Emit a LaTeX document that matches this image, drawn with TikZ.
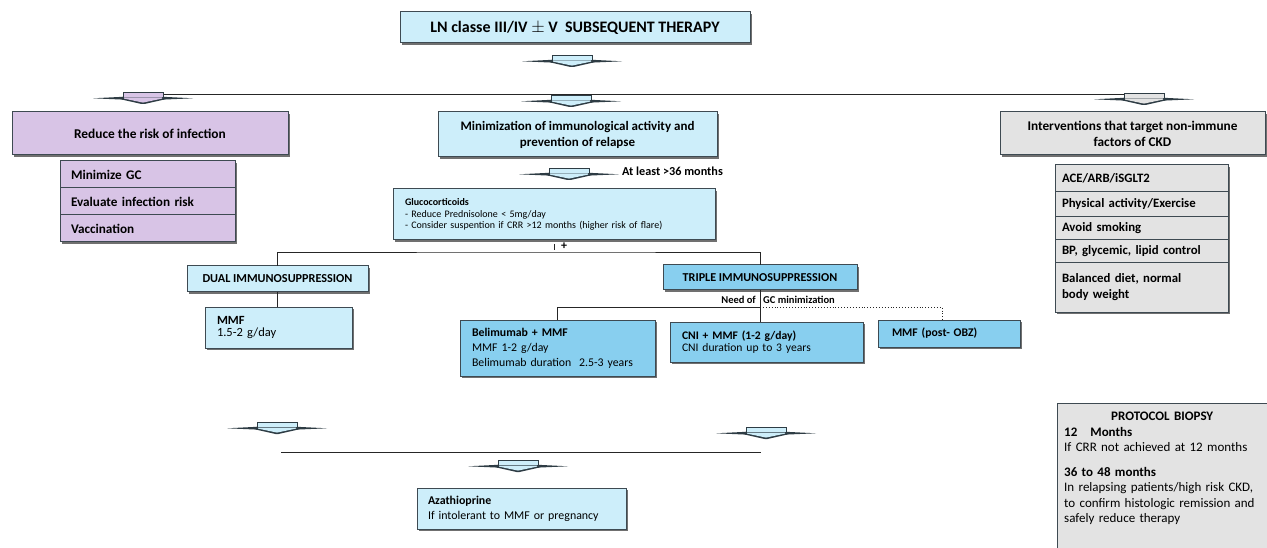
\documentclass[tikz,border=0pt]{standalone}
\usepackage{fontspec}
\setmainfont{Carlito}
\usetikzlibrary{shadows,calc}
\definecolor{lblue}{HTML}{CDEEFA}
\definecolor{mblue}{HTML}{88CFEF}
\definecolor{lpurp}{HTML}{D8C4E6}
\definecolor{lgray}{HTML}{E3E3E3}
\definecolor{bordc}{HTML}{3E4A52}
\definecolor{arrdark}{HTML}{2E3C44}
\newcommand{\fsz}[2]{\fontsize{#1}{#2}\selectfont}
\newcommand{\flatarr}[3]{%
  \begin{scope}[shift={(#1,#2)}]
    \fill[arrdark] (-50,6.3) -- (-20,4.8) -- (-20,7.6) -- cycle;
    \fill[arrdark] (50,6.3) -- (20,4.8) -- (20,7.6) -- cycle;
    \fill[arrdark] (-21,4.8) -- (21,4.8) -- (21,7.6) -- (1.5,12) -- (-1.5,12) -- (-21,7.6) -- cycle;
    \filldraw[fill=#3, draw=arrdark, line width=0.8pt] (-20,0) rectangle (20,5.5);
    \fill[#3] (-19,5.5) -- (19,5.5) -- (19,6.6) -- (0,10.6) -- (-19,6.6) -- cycle;
  \end{scope}}
\tikzset{
  box/.style={draw=bordc, line width=1pt, anchor=north west, inner sep=0pt, outer sep=0pt,
    drop shadow={shadow xshift=1.6pt, shadow yshift=-1.6pt, fill=black!70, opacity=0.8}},
  cbox/.style={box, align=center},
  lbox/.style={box, align=left},
  conn/.style={draw=black!85, line width=0.9pt},
  dotconn/.style={draw=black!85, line width=0.9pt, dotted},
}
\begin{document}
\begin{tikzpicture}[x=1pt,y=-1pt]
\useasboundingbox (0,0) rectangle (1267,548);
\clip (0,0) rectangle (1267,548);

% title
\node[cbox, fill=lblue, minimum width=350, minimum height=31, font=\fsz{16}{18}\bfseries] (title) at (400,12) {LN classe III/IV $\pm$ V\ \ SUBSEQUENT THERAPY};
\flatarr{572}{55}{lblue}

% top distribution line
\coordinate (tl) at (143,94.5);
\coordinate (tr) at (1144,94.5);
\draw[conn] (tl) -- (tr);
\flatarr{143}{92}{lpurp}
\flatarr{571}{95}{lblue}
\flatarr{1144}{93}{lgray}

% left column
\node[cbox, fill=lpurp, minimum width=276, minimum height=43, font=\fsz{13.4}{15}\bfseries] (infect) at (12,112) {Reduce the risk of infection};
\node[lbox, fill=lpurp, text width=153, inner xsep=11, minimum height=27, font=\fsz{13.2}{15}\bfseries] (p1) at (60,161) {Minimize GC};
\node[lbox, fill=lpurp, text width=153, inner xsep=11, minimum height=27, font=\fsz{13.2}{15}\bfseries] (p2) at (60,188) {Evaluate infection risk};
\node[lbox, fill=lpurp, text width=153, inner xsep=11, minimum height=27, font=\fsz{13.2}{15}\bfseries] (p3) at (60,215) {Vaccination};

% central column
\node[cbox, fill=lblue, minimum width=279, minimum height=45, font=\fsz{13}{16}\bfseries] (minim) at (438,112) {Minimization of immunological activity and\\prevention of relapse};
\flatarr{569}{168}{lblue}
\node[anchor=west, inner sep=0pt, font=\fsz{12.2}{14}\bfseries] (atleast) at (622,171) {At least >36 months};

\node[lbox, fill=lblue, text width=298, inner xsep=12, minimum height=51, font=\fsz{10}{11.5}] (gluco) at (393,189) {\textbf{Glucocorticoids}\\- Reduce Prednisolone < 5mg/day\\- Consider suspention if CRR >12 months (higher risk of flare)};

\coordinate (tk1) at (554,244);
\coordinate (tk2) at (554,250);
\draw[conn] (tk1) -- (tk2);
\node[inner sep=0pt, font=\fsz{12}{12}\bfseries] (plus) at (564,246.5) {+};

\node[cbox, fill=lblue, minimum width=181, minimum height=26, font=\fsz{12.2}{14}\bfseries] (dual) at (187,266) {DUAL IMMUNOSUPPRESSION};
\node[cbox, fill=mblue, minimum width=194, minimum height=25, font=\fsz{12.1}{14}\bfseries] (triple) at (663,265) {TRIPLE IMMUNOSUPPRESSION};
\coordinate (bar) at (553,252);
\draw[conn] (dual.north) |- (bar) -| (triple.north);

\node[lbox, fill=lblue, text width=123, inner xsep=12, minimum height=41, font=\fsz{12.5}{12.5}] (mmf) at (205,307) {\textbf{MMF}\\1.5-2 g/day};
\draw[conn] (dual.south) -- (dual.south |- mmf.north);

\node[lbox, fill=mblue, text width=171, inner xsep=12, minimum height=56, font=\fsz{11.8}{15}] (belim) at (460,320) {\textbf{Belimumab + MMF}\\MMF 1-2 g/day\\Belimumab duration\ \ 2.5-3 years};
\node[lbox, fill=mblue, text width=169, inner xsep=12, minimum height=40, font=\fsz{11.6}{12.5}] (cni) at (670,322) {\textbf{CNI + MMF (1-2 g/day)}\\CNI duration up to 3 years};
\node[lbox, fill=mblue, text width=114, inner xsep=14, minimum height=27, font=\fsz{11.7}{13}\bfseries] (postobz) at (878,320) {MMF (post- OBZ)};

\coordinate (split) at (760,307);
\draw[conn] (triple.south) -- (triple.south |- cni.north);
\draw[conn] (belim.north) |- (split);
\draw[dotconn] (split) -| ([xshift=-7pt]postobz.north);
\node[anchor=east, inner sep=0pt, font=\fsz{10.5}{11}\bfseries] (needof) at (756,300) {Need of};
\node[anchor=west, inner sep=0pt, font=\fsz{10.5}{11}\bfseries] (gcmin) at (763,300) {GC minimization};

% right column
\node[cbox, fill=lgray, minimum width=265, minimum height=43, font=\fsz{13.3}{16}\bfseries] (interv) at (1000,112) {Interventions that target non-immune\\factors of CKD};
\node[lbox, fill=lgray, text width=159, inner xsep=7, minimum height=27, font=\fsz{12.8}{14}\bfseries] (g1) at (1055,165) {ACE/ARB/iSGLT2};
\node[lbox, fill=lgray, text width=159, inner xsep=7, minimum height=25, font=\fsz{12.8}{14}\bfseries] (g2) at (1055,192) {Physical activity/Exercise};
\node[lbox, fill=lgray, text width=159, inner xsep=7, minimum height=23, font=\fsz{12.8}{14}\bfseries] (g3) at (1055,217) {Avoid smoking};
\node[lbox, fill=lgray, text width=159, inner xsep=7, minimum height=23, font=\fsz{12.8}{14}\bfseries] (g4) at (1055,240) {BP, glycemic, lipid control};
\node[lbox, fill=lgray, text width=159, inner xsep=7, minimum height=49, font=\fsz{12.8}{16}\bfseries] (g5) at (1055,263) {Balanced diet, normal\\body weight};

% bottom part
\flatarr{277}{422}{lblue}
\flatarr{766}{427}{lblue}
\coordinate (bl) at (281,452);
\coordinate (br) at (761,452);
\draw[conn] (bl) -- (br);
\flatarr{518}{460}{lblue}
\node[lbox, fill=lblue, text width=187, inner xsep=11, minimum height=41, font=\fsz{11.9}{15}] (azat) at (417,488) {\textbf{Azathioprine}\\If intolerant to MMF or pregnancy};

% protocol biopsy
\node[box, fill=lgray, minimum width=210, minimum height=150] (biopsy) at (1057,403) {};
\node[anchor=north west, inner sep=0pt, text width=203, align=left, font=\fsz{13}{15.5}] (biopsytxt) at (1064,412) {\makebox[196pt]{\textbf{PROTOCOL BIOPSY}}\\\textbf{12\quad Months}\\If CRR not achieved at 12 months\\[9pt]\textbf{36 to 48 months}\\In relapsing patients/high risk CKD,\\to confirm histologic remission and\\safely reduce therapy};
\end{tikzpicture}
\end{document}
